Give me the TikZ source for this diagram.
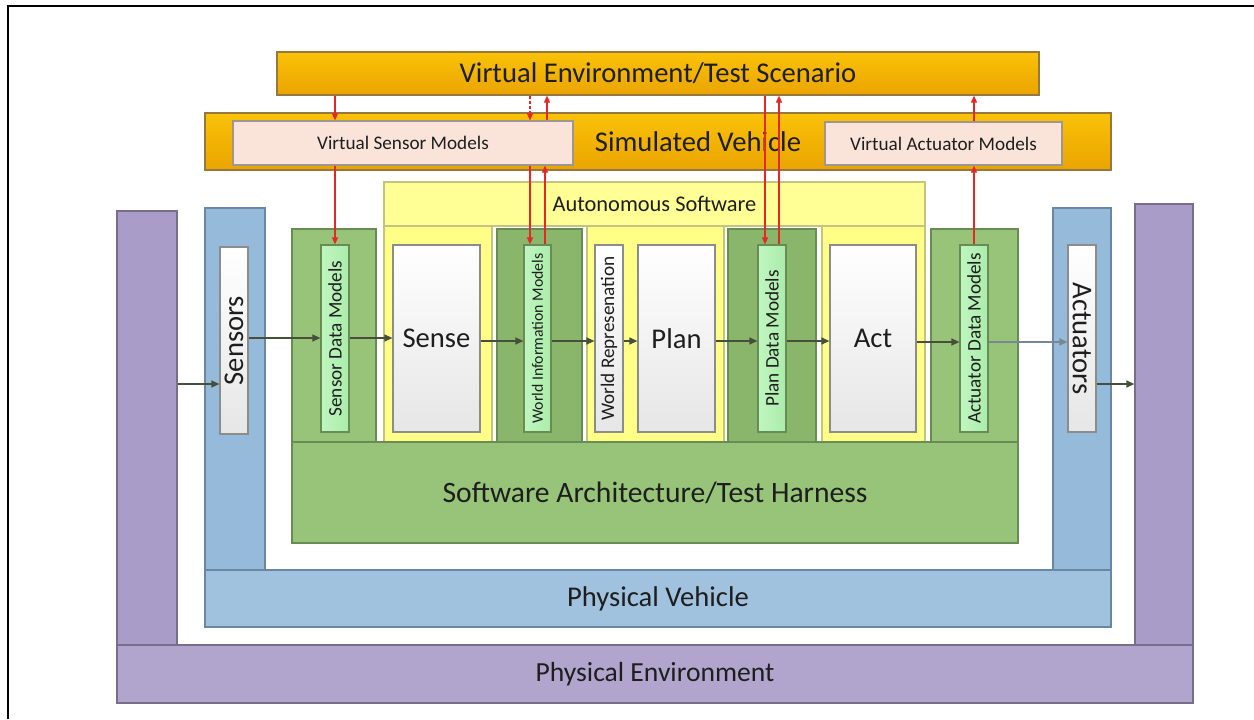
\documentclass[tikz,border=0pt]{standalone}
\usepackage{fontspec}
\setmainfont{Carlito}
\usepackage{graphicx}
\usetikzlibrary{arrows.meta,fit}
\definecolor{goldtop}{RGB}{250,194,8}
\definecolor{goldbot}{RGB}{234,164,0}
\definecolor{goldline}{RGB}{150,120,60}
\definecolor{peach}{RGB}{250,228,218}
\definecolor{peachline}{RGB}{160,150,145}
\definecolor{yel}{RGB}{255,255,135}
\definecolor{yelhead}{RGB}{255,255,150}
\definecolor{yelline}{RGB}{195,195,130}
\definecolor{grnA}{RGB}{151,196,120}
\definecolor{grnB}{RGB}{138,182,108}
\definecolor{grnline}{RGB}{105,140,85}
\definecolor{lgrn}{RGB}{192,246,192}
\definecolor{lgrn2}{RGB}{170,236,170}
\definecolor{wline}{RGB}{140,140,140}
\definecolor{blu}{RGB}{150,186,218}
\definecolor{blu2}{RGB}{160,194,222}
\definecolor{bluline}{RGB}{105,135,165}
\definecolor{pur}{RGB}{170,156,200}
\definecolor{pur2}{RGB}{178,165,205}
\definecolor{purline}{RGB}{120,110,140}
\definecolor{flowc}{RGB}{70,78,60}
\definecolor{flowl}{RGB}{120,135,150}
\definecolor{sigc}{RGB}{228,40,40}
\definecolor{txt}{RGB}{30,30,30}
\tikzset{
  box/.style={draw, rectangle, inner sep=0pt, line width=0.6pt},
  goldbox/.style={box, draw=goldline, top color=goldtop, bottom color=goldbot},
  peachbox/.style={box, draw=peachline, fill=peach},
  yelbox/.style={box, draw=yelline, fill=yel},
  headbox/.style={box, draw=yelline, fill=yelhead},
  grncolA/.style={box, draw=grnline, fill=grnA},
  grncolB/.style={box, draw=grnline, fill=grnB},
  lgrnbox/.style={box, draw=grnline, left color=lgrn, right color=lgrn2},
  whitebox/.style={box, draw=wline, top color=white, bottom color={rgb,255:red,230;green,230;blue,230}},
  blubox/.style={box, draw=bluline, fill=blu},
  blubox2/.style={box, draw=bluline, fill=blu2},
  purbox/.style={box, draw=purline, fill=pur},
  purbox2/.style={box, draw=purline, fill=pur2},
  flow/.style={draw=flowc, line width=0.6pt, -{Triangle[length=4pt,width=3.5pt]}},
  sig/.style={draw=sigc, line width=0.6pt, -{Triangle[length=3.5pt,width=3pt]}},
  tbig/.style={label={[font=\fontsize{14.3}{16}\selectfont, text=txt, inner sep=0pt]center:#1}},
  tpe/.style={label={[font=\fontsize{13.8}{16}\selectfont, text=txt, inner sep=0pt]center:#1}},
  tsa/.style={label={[font=\fontsize{14.8}{16}\selectfont, text=txt, inner sep=0pt]center:#1}},
  tmid/.style={label={[font=\fontsize{11.2}{13}\selectfont, text=txt, inner sep=0pt]center:#1}},
  tsmall/.style={label={[font=\fontsize{9.6}{11}\selectfont, text=txt, inner sep=0pt]center:#1}},
  ttiny/.style={label={[font=\fontsize{7.9}{9}\selectfont, text=txt, inner sep=0pt]center:#1}},
}
\begin{document}
\begin{tikzpicture}[x=0.5pt,y=-0.5pt]
\useasboundingbox (0,0) rectangle (1254,719);
\fill[white] (0,0) rectangle (1254,719);
\draw[line width=1.2pt] (8,719) -- (8,6) -- (1254,6);

% physical environment
\node[purbox, fit={(117,211) (177,645)}] (lpur) {};
\node[purbox, fit={(1135,204) (1193,645)}] (rpur) {};
\node[purbox2, fit={(117,645) (1193,703)}, tpe={Physical Environment}] (penv) {};

% physical vehicle
\node[blubox, fit={(205,208) (265,570)}] (sensbar) {};
\node[blubox, fit={(1053,208) (1111,570)}] (actubar) {};
\node[blubox2, fit={(205,570) (1111,627)}, tbig={Physical Vehicle}] (pveh) {};
\node[whitebox, fit={(220,247) (248,434)}, tbig={\rotatebox{90}{Sensors}}] (sens) {};
\node[whitebox, fit={(1068,245) (1096,432)}, tbig={\rotatebox{-90}{Actuators}}] (actu) {};

% virtual environment and simulated vehicle
\node[goldbox, fit={(277,52) (1039,95)}, tbig={Virtual Environment/Test Scenario}] (ve) {};
\node[goldbox, fit={(205,113) (1111,170)}] (sv) {};
\node[font=\fontsize{14.3}{16}\selectfont, text=txt, inner sep=0pt] (svlabel) at (698,142) {Simulated Vehicle};
\node[peachbox, fit={(233,121) (573,165)}, tsmall={Virtual Sensor Models}] (vsm) {};
\node[peachbox, fit={(825,122) (1062,165)}, tsmall={Virtual Actuator Models}] (vam) {};

% software architecture columns
\node[grncolA, fit={(292,229) (376,442)}] (sdmcol) {};
\node[headbox, fit={(384,182) (925,226)}, tmid={Autonomous Software}] (aswhead) {};
\node[yelbox, fit={(384,226) (492,442)}] (ycol1) {};
\node[grncolB, fit={(497,229) (582,442)}] (wimcol) {};
\node[yelbox, fit={(587,226) (724,442)}] (ycol2) {};
\node[grncolB, fit={(728,229) (816,442)}] (pdmcol) {};
\node[yelbox, fit={(822,226) (925,442)}] (ycol3) {};
\node[grncolA, fit={(931,229) (1018,442)}] (admcol) {};
\node[grncolA, fit={(292,442) (1018,543)}, tsa={Software Architecture/Test Harness}] (sa) {};

% inner boxes
\node[lgrnbox, fit={(321,245) (349,432)}, tsmall={\rotatebox{90}{Sensor Data Models}}] (sdm) {};
\node[whitebox, fit={(393,245) (480,432)}, tbig={Sense}] (sense) {};
\node[lgrnbox, fit={(524,245) (551,432)}, ttiny={\rotatebox{90}{World Information Models}}] (wim) {};
\node[whitebox, fit={(595,245) (623,432)}, tsmall={\rotatebox{90}{World Represenation}}] (wr) {};
\node[whitebox, fit={(638,245) (715,432)}, tbig={Plan}] (plan) {};
\node[lgrnbox, fit={(758,245) (786,432)}, tsmall={\rotatebox{90}{Plan Data Models}}] (pdm) {};
\node[whitebox, fit={(830,245) (916,432)}, tbig={Act}] (act) {};
\node[lgrnbox, fit={(960,245) (988,432)}, tsmall={\rotatebox{90}{Actuator Data Models}}] (adm) {};

% data flow
\draw[flow] (lpur.east |- 0,384) -- (sens.west |- 0,384);
\draw[flow] (sens.east |- 0,338) -- (sdm.west |- 0,338);
\draw[flow] (sdm.east |- 0,338) -- (sense.west |- 0,338);
\draw[flow] (sense.east |- 0,341) -- (wim.west |- 0,341);
\draw[flow] (wim.east |- 0,341) -- (wr.west |- 0,341);
\draw[flow] (wr.east |- 0,341) -- (plan.west |- 0,341);
\draw[flow] (plan.east |- 0,341) -- (pdm.west |- 0,341);
\draw[flow] (pdm.east |- 0,341) -- (act.west |- 0,341);
\draw[flow] (act.east |- 0,342) -- (adm.west |- 0,342);
\draw[flow, draw=flowl] (adm.east |- 0,342) -- (actu.west |- 0,342);
\draw[flow] (actu.east |- 0,384) -- (rpur.west |- 0,384);

% simulation signals
\draw[sig] (ve.south -| 335,0) -- (vsm.north -| 335,0);
\draw[sig] (vsm.south -| 335,0) -- (sdm.north -| 335,0);
\draw[sig, dash pattern=on 1.5pt off 1pt] (ve.south -| 530,0) -- (vsm.north -| 530,0);
\draw[sig] (vsm.south -| 530,0) -- (wim.north -| 530,0);
\draw[sig] (wim.north -| 545,0) -- (vsm.south -| 545,0);
\draw[sig] (vsm.north -| 547,0) -- (ve.south -| 547,0);
\draw[sig] (ve.south -| 765,0) -- (pdm.north -| 765,0);
\draw[sig] (pdm.north -| 779,0) -- (ve.south -| 779,0);
\draw[sig] (adm.north -| 974,0) -- (vam.south -| 974,0);
\draw[sig] (vam.north -| 974,0) -- (ve.south -| 974,0);
\end{tikzpicture}
\end{document}
